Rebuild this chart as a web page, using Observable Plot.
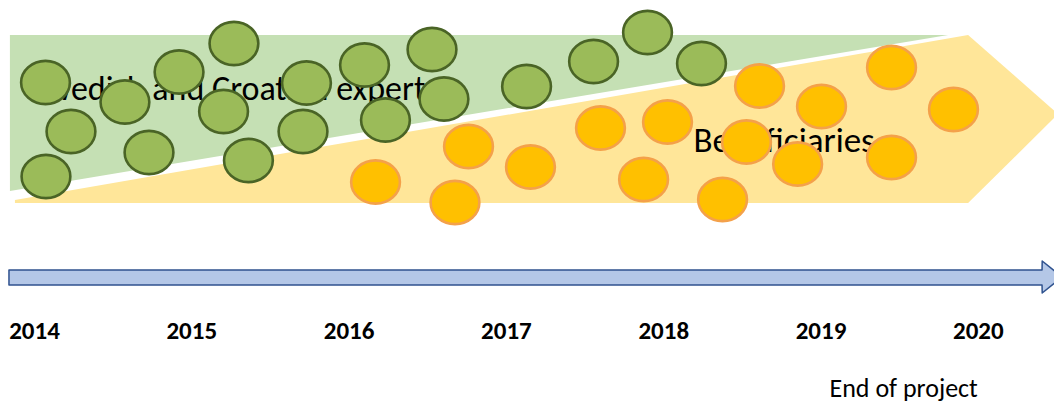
<!DOCTYPE html>
<html>
<head>
<meta charset="utf-8">
<script src="https://cdn.jsdelivr.net/npm/d3@7"></script>
<script src="https://cdn.jsdelivr.net/npm/@observablehq/plot@0.6"></script>
<style>
  html, body { margin: 0; padding: 0; background: #fff; }
  #chart svg { display: block; }
</style>
</head>
<body>
<div id="chart"></div>
<script>
// ---- data ----
const years = [2014, 2015, 2016, 2017, 2018, 2019, 2020];

// green circles (Swedish and Croatian experts): time position and level
const expertX = [2014.070, 2014.232, 2014.073, 2014.575, 2014.728, 2014.919, 2015.268, 2015.202, 2015.360,
                 2015.729, 2015.707, 2016.098, 2016.231, 2016.527, 2016.603, 2017.128, 2017.554, 2017.897, 2018.240];
const expertY = [321, 272, 227, 301.5, 251, 331.5, 360, 292, 243,
                 320.5, 272, 338.5, 283.5, 354, 304.5, 317, 342, 371, 340];

// orange circles (beneficiaries)
const benefX = [2016.168, 2016.759, 2016.673, 2017.153, 2017.598, 2018.024, 2017.872, 2018.374,
                2018.526, 2018.609, 2018.851, 2019.003, 2019.448, 2019.448, 2019.842];
const benefY = [221.5, 257, 201, 236.5, 275.5, 281.5, 224, 204,
                261.5, 317.5, 239.5, 297, 336, 246, 294];

// bands
const expertBandX = [2013.847, 2019.811];
const expertBandLow = [212, 368];
const expertBandHigh = [368, 368];

const benefBandX = [2013.879, 2019.938, 2020.51];
const benefBandLow = [200, 200, 289];
const benefBandHigh = [203, 368, 289];

// timeline arrow
const timeX = [2013.841, 2020.408, 2020.409, 2020.535];
const timeLow = [118, 118, 110, 126];
const timeHigh = [133, 133, 142, 126];

// band labels
const bandLabels = ["Swedish and Croatian experts", "Beneficiaries"];
const bandLabelX = [2015.275, 2018.765];
const bandLabelY = [314, 263];

const endLabel = ["End of project"];
const endLabelX = [2019.525];
const endLabelY = [15];
const yearLabelY = 73;

// ---- build tables ----
const experts = expertX.map((x, i) => ({x, y: expertY[i]}));
const benefs = benefX.map((x, i) => ({x, y: benefY[i]}));
const expertBand = expertBandX.map((x, i) => ({x, y1: expertBandLow[i], y2: expertBandHigh[i]}));
const benefBand = benefBandX.map((x, i) => ({x, y1: benefBandLow[i], y2: benefBandHigh[i]}));
const timeline = timeX.map((x, i) => ({x, y1: timeLow[i], y2: timeHigh[i]}));
const labels = bandLabels.map((t, i) => ({t, x: bandLabelX[i], y: bandLabelY[i], s: i === 0 ? 34 : 35}));
const ends = endLabel.map((t, i) => ({t, x: endLabelX[i], y: endLabelY[i]}));

// slightly wide ellipse symbol
const ellipse = {
  draw(ctx, size) {
    const r = Math.sqrt(size / Math.PI);
    const rx = r * 1.06, ry = r * 0.94, k = 0.5523;
    const kx = k * rx, ky = k * ry;
    ctx.moveTo(rx, 0);
    ctx.bezierCurveTo(rx, ky, kx, ry, 0, ry);
    ctx.bezierCurveTo(-kx, ry, -rx, ky, -rx, 0);
    ctx.bezierCurveTo(-rx, -ky, -kx, -ry, 0, -ry);
    ctx.bezierCurveTo(kx, -ry, rx, -ky, rx, 0);
    ctx.closePath();
  }
};

const font = "Carlito, Calibri, Lato, sans-serif";

const chart = Plot.plot({
  width: 1054,
  height: 403,
  marginTop: 0, marginRight: 0, marginBottom: 0, marginLeft: 0,
  style: {fontFamily: font, background: "#fff"},
  x: {domain: [2013.784, 2020.484], axis: null},
  y: {domain: [0, 403], axis: null},
  marks: [
    Plot.areaY(expertBand, {x: "x", y1: "y1", y2: "y2", fill: "#c5e0b4", curve: "linear"}),
    Plot.areaY(benefBand, {x: "x", y1: "y1", y2: "y2", fill: "#ffe699", curve: "linear"}),
    Plot.text(labels.slice(0, 1), {x: "x", y: "y", text: "t", fontSize: 34, fill: "#000", textAnchor: "middle", lineAnchor: "middle"}),
    Plot.text(labels.slice(1), {x: "x", y: "y", text: "t", fontSize: 35, fill: "#000", textAnchor: "middle", lineAnchor: "middle"}),
    Plot.dot(experts, {x: "x", y: "y", r: 23, symbol: ellipse, fill: "#9bbb59", stroke: "#4a6426", strokeWidth: 2.6}),
    Plot.dot(benefs, {x: "x", y: "y", r: 23, symbol: ellipse, fill: "#ffc000", stroke: "#f4a14a", strokeWidth: 2.6}),
    Plot.areaY(timeline, {x: "x", y1: "y1", y2: "y2", fill: "#b4c7e7", stroke: "#2f528f", strokeWidth: 1.5, curve: "linear"}),
    Plot.text(years, {x: d => d, y: () => yearLabelY, text: d => String(d), fontSize: 25, fontWeight: "bold", fill: "#000", textAnchor: "middle", lineAnchor: "middle"}),
    Plot.text(ends, {x: "x", y: "y", text: "t", fontSize: 26, fill: "#000", textAnchor: "middle", lineAnchor: "middle"})
  ]
});
document.getElementById("chart").appendChild(chart);
</script>
</body>
</html>
